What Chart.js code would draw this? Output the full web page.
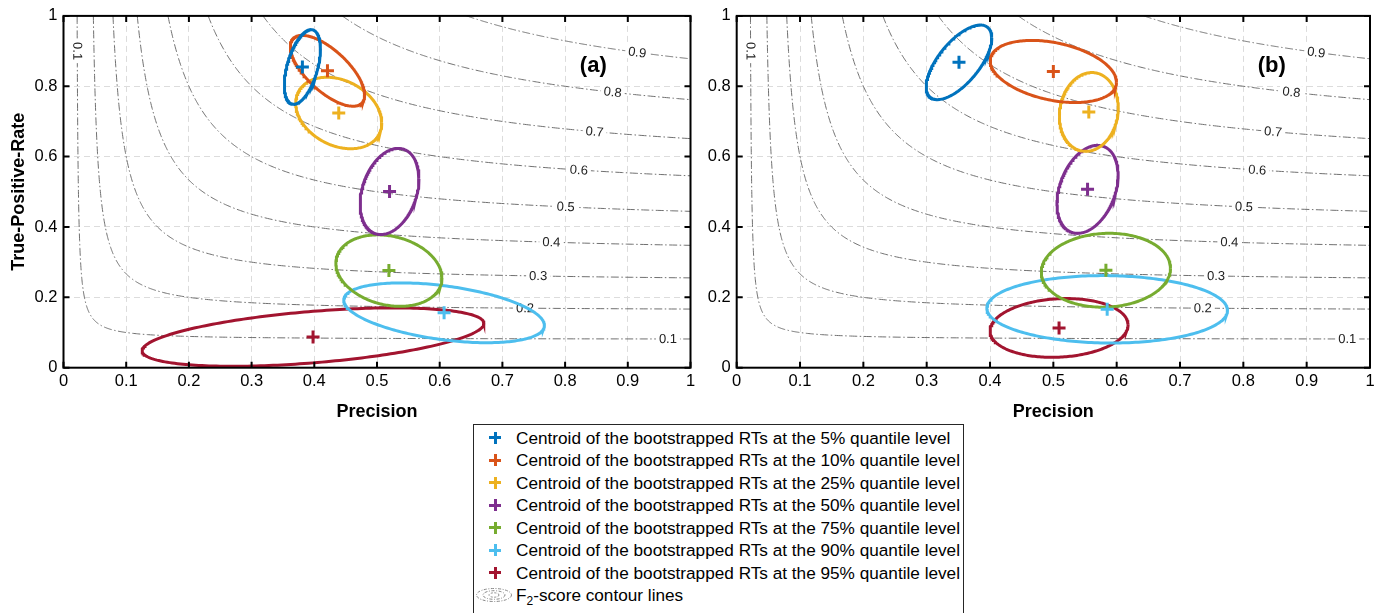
<!DOCTYPE html>
<html>
<head>
<meta charset="utf-8">
<script src="https://cdn.jsdelivr.net/npm/chart.js@4.4.1/dist/chart.umd.min.js"></script>
<style>
  body { margin: 0; background: #fff; width: 1386px; height: 613px; overflow: hidden; position: relative; font-family: "Liberation Sans", Arial, sans-serif; }
  canvas { position: absolute; top: 0; }
  #chartA { left: 0; }
  #chartB { left: 700px; }
  #legend { position: absolute; left: 473px; top: 424px; width: 489px; height: 220px; border: 1px solid #262626; background: #fff; }
  .row { position: absolute; left: 516px; height: 22px; line-height: 22px; font-size: 17.2px; color: #000; white-space: nowrap; }
  .bar { position: absolute; }
  sub { font-size: 12px; vertical-align: -4px; line-height: 0; }
</style>
</head>
<body>
<canvas id="chartA" width="700" height="420"></canvas>
<canvas id="chartB" width="686" height="420"></canvas>
<div id="legend"></div>
<script>
const quantiles = ["5%", "10%", "25%", "50%", "75%", "90%", "95%"];
const colors = ["#0072BD", "#D95319", "#EDB120", "#7E2F8E", "#77AC30", "#4DBEEE", "#A2142F"];

// panel (a): centroids
const precisionA = [0.381, 0.421, 0.439, 0.520, 0.519, 0.607, 0.398];
const tprA = [0.855, 0.844, 0.724, 0.501, 0.276, 0.156, 0.087];
// ellipse half-spread along precision, along TPR, and phase (deg) between them
const spreadPA = [0.0288, 0.0593, 0.0686, 0.0469, 0.0846, 0.160, 0.2726];
const spreadRA = [0.106, 0.1007, 0.1016, 0.1224, 0.1016, 0.085, 0.083];
const phaseA = [61, 133, 106, 73, 102, 115, 62];

// panel (b)
const precisionB = [0.351, 0.500, 0.556, 0.554, 0.583, 0.585, 0.509];
const tprB = [0.868, 0.842, 0.727, 0.507, 0.277, 0.166, 0.113];
const spreadPB = [0.0518, 0.0997, 0.0465, 0.0483, 0.102, 0.19, 0.109];
const spreadRB = [0.106, 0.0883, 0.112, 0.125, 0.105, 0.0958, 0.0836];
const phaseB = [49, 110, 84, 71, 87, 92, 84];

// F2 contour levels and where their labels sit (precision value)
const contourLevels = [0.1, 0.2, 0.3, 0.4, 0.5, 0.6, 0.7, 0.8, 0.9];
const contourLabelP = [0.964, 0.736, 0.757, 0.778, 0.801, 0.822, 0.847, 0.876, 0.915];
const topLabelR = 0.9; // extra label on the 0.1 contour near the top

const xTicks = [0, 0.1, 0.2, 0.3, 0.4, 0.5, 0.6, 0.7, 0.8, 0.9, 1];
const xTickLabels = ["0", "0.1", "0.2", "0.3", "0.4", "0.5", "0.6", "0.7", "0.8", "0.9", "1"];
const yTicks = [0, 0.2, 0.4, 0.6, 0.8, 1];
const yTickLabels = ["0", "0.2", "0.4", "0.6", "0.8", "1"];

const FONT = "'Liberation Sans', Arial, sans-serif";

// recall for a given precision on an F2 contour
function f2Recall(p, f) { return 4 * p * f / (5 * p - f); }

function contourPoints(f) {
  const p0 = f / (5 - 4 * f);
  const d0 = p0 - f / 5, d1 = 1 - f / 5;
  const pts = [];
  const n = 300;
  for (let i = 0; i <= n; i++) {
    const d = d0 * Math.pow(d1 / d0, i / n);
    const p = d + f / 5;
    pts.push({ x: p, y: f2Recall(p, f) });
  }
  return pts;
}

function ellipsePoints(cx, cy, a, b, phaseDeg) {
  const ph = phaseDeg * Math.PI / 180;
  const pts = [];
  for (let i = 0; i <= 240; i++) {
    const t = i / 240 * 2 * Math.PI;
    pts.push({ x: cx + a * Math.cos(t), y: cy + b * Math.cos(t + ph) });
  }
  return pts;
}

function buildDatasets(prec, tpr, sp, sr, ph) {
  const ds = [];
  contourLevels.forEach((f, i) => {
    ds.push({
      data: contourPoints(f), showLine: true, pointRadius: 0, borderWidth: 1,
      borderColor: "#707070", borderDash: [8, 2.5, 1.5, 2.5], order: 10,
      f2Level: f, labelP: contourLabelP[i]
    });
  });
  quantiles.forEach((q, i) => {
    ds.push({
      data: ellipsePoints(prec[i], tpr[i], sp[i], sr[i], ph[i]), showLine: true,
      pointRadius: 0, borderWidth: 3, borderColor: colors[i], order: 5
    });
  });
  ds.push({
    data: prec.map((p, i) => ({ x: p, y: tpr[i] })),
    pointStyle: "cross", pointRadius: 6.5, pointBorderWidth: 3,
    pointBorderColor: colors, pointBackgroundColor: colors, order: 1
  });
  return ds;
}

const contourLabelPlugin = {
  id: "contourLabels",
  afterDatasetDraw(chart, args) {
    const d = chart.data.datasets[args.index];
    if (d.f2Level === undefined) return;
    const ctx = chart.ctx, xs = chart.scales.x, ys = chart.scales.y;
    const sx = xs.getPixelForValue(1) - xs.getPixelForValue(0);
    const sy = ys.getPixelForValue(0) - ys.getPixelForValue(1);
    const f = d.f2Level;
    const spots = [d.labelP];
    if (f === 0.1) spots.push(f * topLabelR / (5 * topLabelR - 4 * f));
    spots.forEach(p => {
      const r = f2Recall(p, f);
      const slope = -4 * f * f / Math.pow(5 * p - f, 2);
      const ang = Math.atan2(-slope * sy, sx);
      const txt = f.toFixed(1);
      ctx.save();
      ctx.translate(xs.getPixelForValue(p), ys.getPixelForValue(r));
      ctx.rotate(ang);
      ctx.font = "13px " + FONT;
      const w = ctx.measureText(txt).width;
      ctx.fillStyle = "#fff";
      ctx.fillRect(-w / 2 - 3, -7, w + 6, 14);
      ctx.fillStyle = "#222";
      ctx.textAlign = "center";
      ctx.textBaseline = "middle";
      ctx.fillText(txt, 0, 0.5);
      ctx.restore();
    });
  }
};

const framePlugin = {
  id: "frame",
  afterDraw(chart) {
    const { ctx, chartArea: { left, right, top, bottom }, scales: { x, y } } = chart;
    ctx.save();
    ctx.strokeStyle = "#000";
    ctx.lineWidth = 2;
    ctx.strokeRect(left, top, right - left, bottom - top);
    ctx.beginPath();
    xTicks.forEach(v => {
      const px = x.getPixelForValue(v);
      ctx.moveTo(px, bottom); ctx.lineTo(px, bottom - 6);
      ctx.moveTo(px, top); ctx.lineTo(px, top + 6);
    });
    yTicks.forEach(v => {
      const py = y.getPixelForValue(v);
      ctx.moveTo(left, py); ctx.lineTo(left + 6, py);
      ctx.moveTo(right, py); ctx.lineTo(right - 6, py);
    });
    ctx.stroke();
    const tag = chart.options.plugins.panelTag;
    ctx.font = "bold 22px " + FONT;
    ctx.fillStyle = "#000";
    ctx.textAlign = "center";
    ctx.textBaseline = "middle";
    ctx.fillText(tag, x.getPixelForValue(0.845), y.getPixelForValue(0.858));
    ctx.restore();
  }
};

function makeChart(id, datasets, tag, yAxisWidth, padRight, showYTitle) {
  return new Chart(document.getElementById(id), {
    type: "scatter",
    data: { datasets: datasets },
    options: {
      responsive: false,
      animation: false,
      events: [],
      layout: { padding: { left: 0, right: padRight, top: 15.7, bottom: 0 } },
      plugins: { legend: { display: false }, tooltip: { enabled: false }, panelTag: tag },
      scales: {
        x: {
          type: "linear", min: 0, max: 1,
          afterBuildTicks: s => { s.ticks = xTicks.map(v => ({ value: v })); },
          afterFit: s => { s.height = 52.3; },
          ticks: { callback: (v, i) => xTickLabels[i], font: { size: 16.5, family: FONT }, color: "#000", padding: 4, maxRotation: 0, autoSkip: false },
          grid: { color: "#dcdcdc", lineWidth: 1, drawTicks: false },
          border: { display: false, dash: [6, 4] },
          title: { display: true, text: "Precision", font: { size: 18, weight: "bold", family: FONT }, color: "#000", padding: { top: 0, bottom: -3 } }
        },
        y: {
          type: "linear", min: 0, max: 1,
          afterBuildTicks: s => { s.ticks = yTicks.map(v => ({ value: v })); },
          afterFit: s => { s.width = yAxisWidth; },
          ticks: { callback: (v, i) => yTickLabels[i], font: { size: 16.5, family: FONT }, color: "#000", padding: 6, autoSkip: false },
          grid: { color: "#dcdcdc", lineWidth: 1, drawTicks: false },
          border: { display: false, dash: [6, 4] },
          title: { display: showYTitle, text: "True-Positive-Rate", font: { size: 18, weight: "bold", family: FONT }, color: "#000", padding: { top: 8, bottom: 0 } }
        }
      }
    },
    plugins: [contourLabelPlugin, framePlugin]
  });
}

makeChart("chartA", buildDatasets(precisionA, tprA, spreadPA, spreadRA, phaseA), "(a)", 63.5, 7, true);
makeChart("chartB", buildDatasets(precisionB, tprB, spreadPB, spreadRB, phaseB), "(b)", 36.7, 16, false);

// legend
const body = document.body;
const rowStep = 22.47, firstRow = 437.7;
quantiles.forEach((q, i) => {
  const cy = firstRow + i * rowStep;
  const h = document.createElement("div");
  h.className = "bar";
  h.style.cssText = `left:489px;top:${cy - 1.5}px;width:12px;height:3px;background:${colors[i]}`;
  const v = document.createElement("div");
  v.className = "bar";
  v.style.cssText = `left:493.5px;top:${cy - 6}px;width:3px;height:12px;background:${colors[i]}`;
  const t = document.createElement("div");
  t.className = "row";
  t.style.top = (cy - 11) + "px";
  t.textContent = "Centroid of the bootstrapped RTs at the " + q + " quantile level";
  body.append(h, v, t);
});
const fy = firstRow + 7 * rowStep;
const icon = document.createElement("div");
icon.className = "bar";
icon.style.cssText = `left:475px;top:${fy - 8}px;width:38px;height:16px`;
icon.innerHTML = '<svg width="38" height="16" viewBox="0 0 38 16">' +
  '<ellipse cx="19" cy="8" rx="17.5" ry="6.5" fill="none" stroke="#888" stroke-width="1" stroke-dasharray="3,1.5,1,1.5"/>' +
  '<ellipse cx="19" cy="8" rx="11" ry="4.3" fill="none" stroke="#888" stroke-width="1" stroke-dasharray="3,1.5,1,1.5"/>' +
  '<ellipse cx="19" cy="8" rx="5" ry="2.2" fill="none" stroke="#888" stroke-width="1" stroke-dasharray="2,1.5"/>' +
  '</svg>';
const ft = document.createElement("div");
ft.className = "row";
ft.style.top = (fy - 11) + "px";
ft.innerHTML = "F<sub>2</sub>-score contour lines";
body.append(icon, ft);
</script>
</body>
</html>
